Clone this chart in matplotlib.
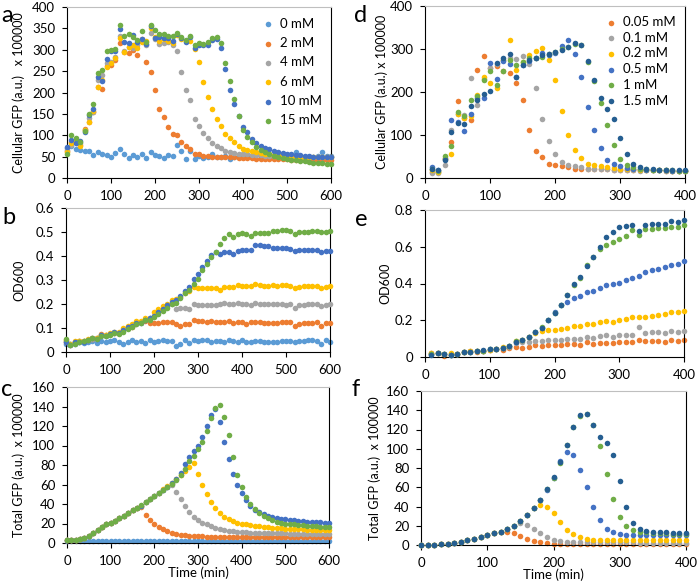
import matplotlib.pyplot as plt
from matplotlib.ticker import FixedLocator

plt.rcParams['font.family'] = ['Lato', 'DejaVu Sans']
plt.rcParams['font.size'] = 9.5

C_LB = '#5B9BD5'
C_OR = '#ED7D31'
C_GR = '#A5A5A5'
C_YE = '#FFC000'
C_BL = '#4472C4'
C_GN = '#70AD47'
C_DB = '#255E91'

# ---------- left column: 0..600 min, every 10 min ----------
t_left = list(range(0, 601, 10))
labels_left = ['0 mM', '2 mM', '4 mM', '6 mM', '10 mM', '15 mM']

a_0 = [70, 75, 68, 66, 62, 63, 53, 61, 55, 54,
       50, 58, 67, 55, 47, 54, 49, 57, 46, 60,
       53, 51, 47, 53, 51, 78, 62, 45, 63, 44,
       52, 47, 48, 55, 48, 50, 52, 44, 50, 50,
       55, 52, 50, 55, 48, 52, 50, 50, 52, 50,
       52, 50, 60, 52, 50, 50, 50, 52, 60, 52, 52]
a_2 = [62, 85, 90, 78, 115, 130, 155, 213, 208, 262,
       265, 275, 316, 295, 292, 300, 288, 325, 272, 247,
       205, 162, 142, 120, 103, 101, 85, 76, 68, 56,
       57, 52, 52, 50, 50, 50, 50, 48, 48, 47,
       47, 46, 46, 45, 45, 45, 44, 44, 44, 44,
       44, 43, 43, 43, 43, 43, 43, 43, 42, 42, 42]
a_4 = [65, 78, 85, 82, 113, 140, 155, 230, 240, 268,
       272, 282, 333, 298, 307, 305, 312, 320, 312, 340,
       325, 313, 315, 318, 310, 296, 248, 207, 183, 139,
       122, 105, 93, 82, 75, 71, 62, 60, 58, 57,
       55, 55, 54, 53, 53, 52, 52, 51, 51, 50,
       50, 50, 50, 49, 49, 49, 49, 48, 48, 48, 48]
a_6 = [60, 83, 88, 76, 112, 132, 157, 213, 230, 260,
       268, 280, 328, 295, 306, 310, 305, 318, 320, 350,
       330, 320, 325, 320, 315, 335, 325, 320, 320, 302,
       271, 225, 190, 162, 139, 121, 103, 93, 84, 76,
       68, 65, 62, 60, 58, 56, 55, 54, 53, 52,
       52, 51, 50, 50, 49, 49, 48, 48, 48, 48, 48]
a_10 = [73, 90, 83, 87, 108, 148, 162, 237, 226, 278,
        296, 298, 348, 318, 316, 335, 317, 326, 313, 355,
        327, 330, 328, 327, 320, 337, 328, 318, 330, 304,
        310, 310, 312, 322, 325, 303, 254, 207, 173, 145,
        120, 108, 92, 82, 75, 71, 67, 63, 60, 58,
        56, 55, 54, 53, 52, 51, 50, 50, 49, 49, 49]
a_15 = [55, 100, 93, 85, 110, 150, 173, 245, 252, 298,
        300, 302, 358, 331, 336, 330, 323, 345, 318, 357,
        347, 337, 337, 332, 332, 340, 330, 323, 332, 312,
        316, 314, 318, 327, 330, 315, 270, 227, 185, 145,
        113, 97, 84, 72, 65, 60, 55, 52, 49, 46,
        44, 42, 41, 40, 39, 38, 36, 35, 34, 33, 32]

b_0 = [0.035, 0.035, 0.035, 0.04, 0.038, 0.04, 0.045, 0.038, 0.045, 0.042,
       0.045, 0.048, 0.04, 0.035, 0.04, 0.05, 0.042, 0.045, 0.038, 0.05,
       0.04, 0.045, 0.048, 0.045, 0.045, 0.025, 0.035, 0.048, 0.038, 0.052,
       0.045, 0.048, 0.048, 0.04, 0.045, 0.045, 0.042, 0.052, 0.045, 0.042,
       0.048, 0.04, 0.04, 0.045, 0.045, 0.04, 0.04, 0.042, 0.042, 0.045,
       0.045, 0.045, 0.04, 0.045, 0.045, 0.048, 0.052, 0.045, 0.035, 0.05, 0.042]
b_2 = [0.04, 0.03, 0.04, 0.045, 0.045, 0.05, 0.055, 0.06, 0.075, 0.07,
       0.075, 0.08, 0.08, 0.09, 0.1, 0.105, 0.12, 0.125, 0.13, 0.12,
       0.12, 0.12, 0.125, 0.125, 0.125, 0.115, 0.11, 0.115, 0.115, 0.135,
       0.13, 0.13, 0.125, 0.13, 0.125, 0.125, 0.125, 0.13, 0.12, 0.125,
       0.125, 0.115, 0.125, 0.125, 0.125, 0.12, 0.12, 0.12, 0.12, 0.125,
       0.125, 0.125, 0.11, 0.115, 0.12, 0.12, 0.12, 0.125, 0.11, 0.12, 0.12]
b_4 = [0.045, 0.035, 0.04, 0.045, 0.045, 0.05, 0.055, 0.06, 0.07, 0.07,
       0.075, 0.08, 0.08, 0.09, 0.1, 0.11, 0.115, 0.125, 0.135, 0.14,
       0.15, 0.165, 0.175, 0.19, 0.2, 0.18, 0.185, 0.185, 0.18, 0.2,
       0.195, 0.195, 0.195, 0.195, 0.195, 0.2, 0.205, 0.2, 0.2, 0.205,
       0.2, 0.2, 0.195, 0.205, 0.2, 0.2, 0.2, 0.2, 0.2, 0.2,
       0.195, 0.2, 0.185, 0.195, 0.195, 0.2, 0.2, 0.2, 0.19, 0.195, 0.2]
b_6 = [0.05, 0.035, 0.045, 0.045, 0.045, 0.055, 0.06, 0.06, 0.07, 0.07,
       0.08, 0.085, 0.085, 0.1, 0.11, 0.115, 0.13, 0.13, 0.14, 0.14,
       0.165, 0.18, 0.19, 0.2, 0.215, 0.22, 0.23, 0.245, 0.255, 0.27,
       0.265, 0.265, 0.265, 0.265, 0.265, 0.26, 0.27, 0.27, 0.27, 0.28,
       0.275, 0.275, 0.275, 0.285, 0.28, 0.275, 0.275, 0.28, 0.275, 0.28,
       0.28, 0.275, 0.265, 0.27, 0.275, 0.275, 0.275, 0.275, 0.265, 0.27, 0.275]
b_10 = [0.04, 0.03, 0.04, 0.04, 0.04, 0.05, 0.06, 0.055, 0.07, 0.065,
        0.075, 0.085, 0.08, 0.09, 0.105, 0.11, 0.12, 0.12, 0.135, 0.14,
        0.15, 0.165, 0.18, 0.195, 0.21, 0.215, 0.235, 0.255, 0.27, 0.305,
        0.325, 0.355, 0.38, 0.405, 0.415, 0.41, 0.415, 0.415, 0.41, 0.42,
        0.425, 0.425, 0.425, 0.445, 0.445, 0.44, 0.44, 0.435, 0.435, 0.435,
        0.435, 0.43, 0.42, 0.425, 0.425, 0.425, 0.425, 0.425, 0.415, 0.42, 0.42]
b_15 = [0.055, 0.03, 0.035, 0.04, 0.045, 0.05, 0.06, 0.055, 0.065, 0.065,
        0.07, 0.08, 0.075, 0.085, 0.095, 0.105, 0.115, 0.12, 0.135, 0.135,
        0.145, 0.16, 0.17, 0.185, 0.2, 0.205, 0.225, 0.245, 0.26, 0.285,
        0.305, 0.34, 0.365, 0.395, 0.415, 0.45, 0.475, 0.49, 0.48, 0.49,
        0.495, 0.49, 0.485, 0.495, 0.495, 0.495, 0.495, 0.505, 0.505, 0.51,
        0.51, 0.505, 0.49, 0.5, 0.5, 0.5, 0.505, 0.505, 0.5, 0.5, 0.505]

c_0 = [2.5, 2.5, 2.5, 2.5, 2.5, 2.5, 2.5, 2.5, 2.5, 2.5,
       2.5, 2.5, 2.5, 2.5, 2.5, 2.5, 2.5, 2.5, 2.5, 2.5,
       2.5, 2.5, 2.5, 2.5, 2.5, 2.5, 2.5, 2.5, 2.5, 2.5,
       2.5, 2.5, 2.5, 2.5, 2.5, 2.5, 2.5, 2.5, 2.5, 2.5,
       2.5, 2.5, 2.5, 2.5, 2.5, 2.5, 2.5, 2.5, 2.5, 2.5,
       2.5, 2.5, 2.5, 2.5, 2.5, 2.5, 2.5, 2.5, 2.5, 2.5, 2.5]
c_2 = [3, 3, 3, 4, 5, 7, 10, 13, 16, 19,
       21, 23, 26, 28, 31, 34, 36, 37, 29, 24,
       20, 16, 14, 12, 10, 9, 8.5, 8, 7.5, 7,
       7, 6.8, 6.6, 6.5, 6.4, 6.3, 6.2, 6.2, 6.1, 6.1,
       6, 6, 6, 6, 6, 6, 6, 6, 6, 6,
       6, 6, 6, 6, 6, 6, 6, 6, 6, 6, 6]
c_4 = [3, 3, 3, 4, 5, 7, 10, 13, 16, 19,
       21, 23, 26, 28, 31, 34, 36, 38, 42, 45,
       48, 51, 54, 57, 60, 52, 45, 38, 32, 27,
       24, 21, 19, 17, 15, 14, 13, 12.5, 12, 11.5,
       11, 11, 10.5, 10.5, 10.5, 10, 10, 10, 10, 10,
       10, 9.5, 9.5, 9.5, 9.5, 9.5, 9.5, 9, 9, 9, 9]
c_6 = [3, 3, 3, 4, 5, 7, 10, 13, 16, 19,
       21, 23, 26, 28, 31, 34, 36, 38, 42, 45,
       48, 51, 55, 58, 62, 66, 70, 74, 78, 82,
       71, 59, 50, 42, 36, 31, 27, 25, 23, 21,
       20, 19, 18, 17.5, 17, 16.5, 16, 15.5, 15, 15,
       14.5, 14.5, 14, 14, 14, 13.5, 13.5, 13.5, 13, 13, 13]
c_10 = [3, 3, 3, 4, 5, 7, 10, 13, 16, 19,
        21, 23, 26, 28, 31, 34, 36, 38, 42, 45,
        48, 51, 54, 57, 62, 66, 72, 81, 88, 94,
        100, 109, 120, 131, 137, 124, 104, 86, 71, 60,
        51, 44, 38, 34, 32, 30, 28, 27, 26, 25,
        24.5, 24, 23.5, 23, 22.5, 22, 22, 21.5, 21.5, 21, 21]
c_15 = [3, 3, 3.5, 4, 5, 7, 10, 13, 16, 19,
        21, 23, 26, 28, 31, 34, 36, 39, 42, 45,
        48, 51, 54, 57, 61, 65, 70, 76, 84, 89,
        96, 104, 115, 128, 138, 142, 129, 111, 88, 70,
        57, 47, 40, 35, 31, 28, 26, 24, 22, 21,
        20, 19.5, 19, 18.5, 18, 17.5, 17, 17, 16.5, 16.5, 16]

# ---------- right column ----------
t_d = list(range(10, 401, 10))
t_f = list(range(0, 401, 10))
labels_right = ['0.05 mM', '0.1 mM', '0.2 mM', '0.5 mM', '1 mM', '1.5 mM']

d_005 = [15, 15, 47, 83, 180, 140, 135, 252, 284, 255,
         260, 250, 245, 222, 181, 111, 62, 48, 33, 30,
         28, 25, 22, 22, 20, 20, 20, 20, 19, 19,
         19, 19, 18, 18, 18, 18, 17, 17, 17, 17]
d_01 = [12, 12, 30, 112, 150, 147, 232, 170, 230, 255,
        265, 275, 280, 277, 283, 265, 209, 138, 87, 55,
        38, 30, 27, 25, 22, 21, 20, 20, 19, 19,
        19, 18, 17, 18, 18, 18, 17, 17, 17, 17]
d_02 = [18, 14, 45, 55, 150, 140, 145, 193, 235, 220,
        210, 275, 320, 251, 270, 285, 295, 302, 275, 227,
        155, 101, 65, 46, 33, 30, 27, 25, 23, 22,
        21, 20, 19, 19, 18, 18, 18, 17, 17, 17]
d_05 = [25, 18, 45, 135, 130, 110, 150, 185, 187, 268,
        230, 272, 265, 235, 262, 272, 280, 290, 285, 290,
        307, 322, 288, 236, 166, 112, 69, 43, 32, 27,
        24, 22, 20, 19, 19, 18, 18, 17, 17, 17]
d_1 = [20, 16, 52, 74, 153, 145, 182, 190, 228, 248,
       216, 248, 275, 262, 270, 280, 278, 282, 288, 292,
       300, 305, 312, 310, 270, 225, 175, 123, 77, 45,
       30, 25, 22, 20, 19, 18, 18, 18, 17, 17]
d_15 = [20, 18, 43, 107, 127, 126, 167, 182, 195, 203,
        268, 280, 288, 236, 263, 275, 280, 287, 288, 293,
        298, 305, 313, 310, 273, 229, 185, 160, 137, 93,
        55, 32, 25, 21, 20, 19, 19, 18, 18, 18]

e_005 = [0.02, 0.02, 0.005, 0.015, 0.015, 0.025, 0.03, 0.025, 0.03, 0.04,
         0.045, 0.04, 0.05, 0.055, 0.05, 0.055, 0.065, 0.06, 0.065, 0.065,
         0.065, 0.07, 0.07, 0.065, 0.08, 0.07, 0.075, 0.075, 0.075, 0.08,
         0.08, 0.08, 0.09, 0.085, 0.085, 0.085, 0.08, 0.09, 0.085, 0.09]
e_01 = [0.015, 0.02, 0.015, 0.01, 0.015, 0.025, 0.025, 0.03, 0.035, 0.04,
        0.045, 0.05, 0.055, 0.075, 0.08, 0.08, 0.085, 0.085, 0.09, 0.09,
        0.095, 0.1, 0.1, 0.1, 0.11, 0.105, 0.115, 0.12, 0.11, 0.12,
        0.12, 0.12, 0.165, 0.13, 0.135, 0.135, 0.13, 0.14, 0.135, 0.14]
e_02 = [0.02, 0.02, 0.015, 0.02, 0.015, 0.025, 0.03, 0.03, 0.035, 0.04,
        0.045, 0.055, 0.06, 0.085, 0.095, 0.11, 0.13, 0.14, 0.145, 0.145,
        0.155, 0.16, 0.17, 0.17, 0.18, 0.18, 0.19, 0.195, 0.19, 0.2,
        0.205, 0.215, 0.215, 0.22, 0.225, 0.23, 0.235, 0.245, 0.245, 0.25]
e_05 = [0.015, 0.02, 0.015, 0.01, 0.015, 0.025, 0.025, 0.03, 0.035, 0.045,
        0.045, 0.05, 0.06, 0.08, 0.09, 0.11, 0.135, 0.16, 0.2, 0.245,
        0.285, 0.3, 0.32, 0.33, 0.355, 0.36, 0.375, 0.39, 0.4, 0.405,
        0.42, 0.43, 0.44, 0.46, 0.475, 0.48, 0.49, 0.5, 0.505, 0.52]
e_1 = [0.015, 0.02, 0.015, 0.01, 0.015, 0.025, 0.025, 0.03, 0.035, 0.045,
       0.045, 0.05, 0.06, 0.085, 0.09, 0.11, 0.135, 0.165, 0.2, 0.24,
       0.285, 0.34, 0.39, 0.43, 0.5, 0.545, 0.59, 0.61, 0.625, 0.64,
       0.66, 0.69, 0.665, 0.695, 0.695, 0.7, 0.7, 0.71, 0.71, 0.72]
e_15 = [0.01, 0.02, 0.015, 0.01, 0.015, 0.025, 0.025, 0.03, 0.04, 0.045,
        0.045, 0.05, 0.06, 0.08, 0.095, 0.11, 0.135, 0.16, 0.2, 0.24,
        0.285, 0.34, 0.395, 0.435, 0.495, 0.545, 0.6, 0.655, 0.68, 0.705,
        0.715, 0.72, 0.685, 0.72, 0.725, 0.725, 0.725, 0.74, 0.735, 0.745]

f_005 = [0.3, 0.3, 0.5, 0.8, 1.5, 2.5, 3.5, 5, 6.5, 8,
         10, 12, 14, 14, 12, 9, 6, 4, 3, 2,
         1.5, 1, 1, 1, 1, 1, 1, 1, 1, 1,
         1, 1, 1, 1, 1, 1, 1, 1, 1, 1, 1]
f_01 = [0.3, 0.3, 0.5, 0.8, 1.5, 2.5, 3.5, 5, 6.5, 8,
        10, 12, 14, 17, 20, 23, 21, 17, 12, 8,
        5, 4, 3.5, 3, 3, 3, 3, 3, 3, 3,
        3, 3, 3, 2.5, 2.5, 2.5, 2.5, 2.5, 2.5, 2.5, 2.5]
f_02 = [0.3, 0.3, 0.5, 0.8, 1.5, 2.5, 3.5, 5, 6.5, 8,
        10, 12, 14, 17, 20, 25, 31, 38, 42, 40,
        33, 24, 16, 11, 8, 6, 5.5, 5, 5, 5,
        5, 5, 5, 5, 5, 5, 5, 5, 5, 5, 5]
f_05 = [0.3, 0.3, 0.5, 0.8, 1.5, 2.5, 3.5, 5, 6.5, 8,
        10, 12, 14, 17, 20, 25, 31, 38, 47, 57,
        70, 87, 97, 93, 78, 60, 40, 26, 17, 13,
        11, 10.5, 10, 10, 10, 10, 10, 10, 10, 10, 10]
f_1 = [0.3, 0.3, 0.5, 0.8, 1.5, 2.5, 3.5, 5, 6.5, 8,
       10, 12, 14, 17, 20, 25, 31, 38, 47, 58,
       70, 85, 104, 123, 134, 136, 125, 103, 74, 48,
       29, 20, 16, 14, 13, 12.5, 12, 12, 11.5, 11.5, 11]
f_15 = [0.3, 0.3, 0.5, 0.8, 1.5, 2.5, 3.5, 5, 6.5, 8,
        10, 12, 14, 17, 20, 25, 31, 38, 47, 58,
        71, 86, 104, 123, 135, 136, 125, 112, 106, 93,
        66, 39, 23, 17, 15, 14, 13, 13, 12, 12, 12]

colors_left = [C_LB, C_OR, C_GR, C_YE, C_BL, C_GN]
colors_right = [C_OR, C_GR, C_YE, C_BL, C_GN, C_DB]

W, H = 697, 584
fig = plt.figure(figsize=(W / 100, H / 100), dpi=100)


def px_axes(x0, y0, x1, y1):
    # pixel box (top-left origin) -> figure axes
    return fig.add_axes([x0 / W, 1 - y1 / H, (x1 - x0) / W, (y1 - y0) / H])


def style(ax, xmax, ymax, yticks, yfmt):
    ax.set_xlim(0, xmax)
    ax.set_ylim(0, ymax)
    ax.xaxis.set_major_locator(FixedLocator(list(range(0, xmax + 1, 100))))
    ax.yaxis.set_major_locator(FixedLocator(yticks))
    ax.set_yticklabels([yfmt(v) for v in yticks])
    ax.tick_params(axis='x', direction='out', length=3.5, width=0.8, pad=5, labelsize=9.5)
    ax.tick_params(axis='y', direction='out', length=3.5, width=0.8, pad=5, labelsize=9.5)
    for s in ['left', 'bottom', 'right']:
        ax.spines[s].set_color('black')
        ax.spines[s].set_linewidth(0.8)
    ax.spines['top'].set_color('#BFBFBF')
    ax.spines['top'].set_linewidth(0.8)


def draw(ax, t, series, colors, labels=None):
    for i, (vals, c) in enumerate(zip(series, colors)):
        ax.scatter(t, vals, s=16, color=c, linewidths=0, zorder=2 + i,
                   label=labels[i] if labels else None, clip_on=False)


def fmt_int(v):
    return f'{v:g}'


YL = 9

# panel a
ax_a = px_axes(67, 7, 331, 178)
draw(ax_a, t_left, [a_0, a_2, a_4, a_6, a_10, a_15], colors_left, labels_left)
style(ax_a, 600, 400, list(range(0, 401, 50)), fmt_int)
ax_a.set_ylabel('Cellular GFP (a.u.)   x 100000', fontsize=YL)
ax_a.yaxis.set_label_coords(-0.159, 0.5)
ax_a.legend(loc='upper right', bbox_to_anchor=(1.0, 0.99), frameon=False,
            handlelength=0.8, handletextpad=0.5, labelspacing=0.55,
            borderaxespad=0.3, fontsize=9.5)

# panel b
ax_b = px_axes(66, 208, 330, 352)
draw(ax_b, t_left, [b_0, b_2, b_4, b_6, b_10, b_15], colors_left)
style(ax_b, 600, 0.6, [0, 0.1, 0.2, 0.3, 0.4, 0.5, 0.6], fmt_int)
ax_b.set_ylabel('OD600', fontsize=YL)
ax_b.yaxis.set_label_coords(-0.152, 0.5)

# panel c
ax_c = px_axes(67, 387, 329, 543)
draw(ax_c, t_left, [c_0, c_2, c_4, c_6, c_10, c_15], colors_left)
style(ax_c, 600, 160, list(range(0, 161, 20)), fmt_int)
ax_c.set_ylabel('Total GFP (a.u.)  x 100000', fontsize=YL)
ax_c.yaxis.set_label_coords(-0.16, 0.5)
ax_c.set_xlabel('Time (min)', fontsize=9.5, labelpad=0)

# panel d
ax_d = px_axes(425, 6, 685, 178)
draw(ax_d, t_d, [d_005, d_01, d_02, d_05, d_1, d_15], colors_right, labels_right)
style(ax_d, 400, 400, list(range(0, 401, 100)), fmt_int)
ax_d.set_ylabel('Cellular GFP (a.u.) x 100000', fontsize=YL)
ax_d.yaxis.set_label_coords(-0.142, 0.5)
ax_d.legend(loc='upper right', bbox_to_anchor=(1.0, 0.995), frameon=False,
            handlelength=0.8, handletextpad=0.5, labelspacing=0.28,
            borderaxespad=0.3, fontsize=9.5)

# panel e
ax_e = px_axes(425, 210, 684, 357)
draw(ax_e, t_d, [e_005, e_01, e_02, e_05, e_1, e_15], colors_right)
style(ax_e, 400, 0.8, [0, 0.2, 0.4, 0.6, 0.8], fmt_int)
ax_e.set_ylabel('OD600', fontsize=YL)
ax_e.yaxis.set_label_coords(-0.131, 0.5)

# panel f
ax_f = px_axes(421, 391, 686, 545)
draw(ax_f, t_f, [f_005, f_01, f_02, f_05, f_1, f_15], colors_right)
style(ax_f, 400, 160, list(range(0, 161, 20)), fmt_int)
ax_f.set_ylabel('Total GFP (a.u.)  x 100000', fontsize=YL)
ax_f.yaxis.set_label_coords(-0.151, 0.5)
ax_f.set_xlabel('Time (min)', fontsize=9.5, labelpad=0)

# panel letters
for letter, (x, y) in zip('abcdef', [(1, 15), (2, 217), (1, 389),
                                       (354, 15), (355, 219), (352, 390)]):
    fig.text(x / W, 1 - y / H, letter, fontsize=17, ha='left', va='center')

fig.savefig('out.png', dpi=100)
